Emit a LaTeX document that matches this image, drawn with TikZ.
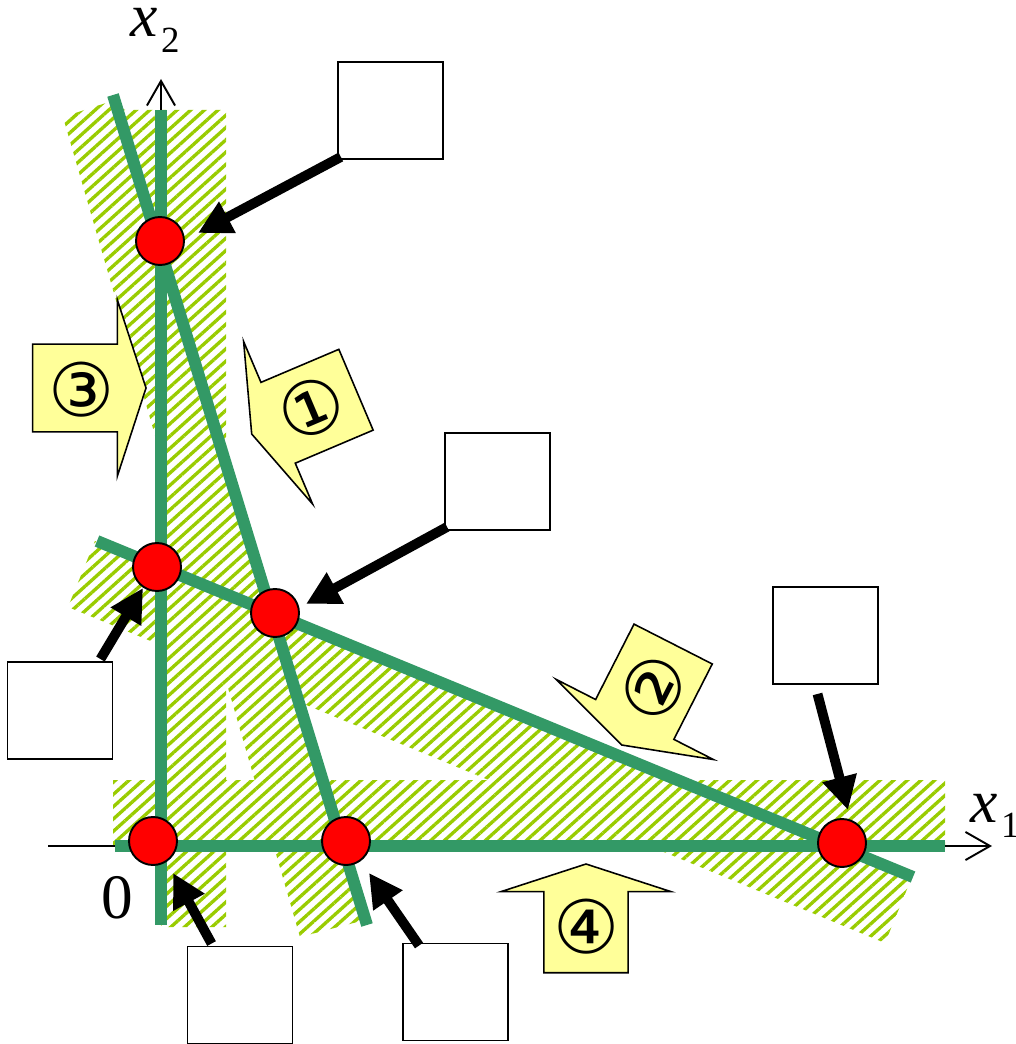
\documentclass[tikz,border=0pt]{standalone}
\usepackage{fontspec}
\usetikzlibrary{arrows.meta,patterns.meta,calc}
\newfontfamily\symfont{DejaVu Sans}
\newfontfamily\tmsfont{Liberation Serif}
\definecolor{linegreen}{RGB}{51,153,102}
\definecolor{hatchgreen}{RGB}{153,204,0}
\definecolor{blockyellow}{RGB}{255,255,153}
\tikzset{
  band/.style={pattern={Lines[angle=42,distance=5.2pt,line width=1.9pt]},pattern color=hatchgreen},
  constraint/.style={draw=linegreen,line width=6.8pt},
  axisline/.style={draw=black,line width=1.1pt,-{Straight Barb[length=14pt,width=16pt,line width=1.1pt]}},
  vertex/.style={circle,draw=black,fill=red,line width=1.1pt,minimum size=0.96cm,inner sep=0pt},
  callout/.style={draw=black,line width=5.6pt,-{Triangle[length=19pt,width=19pt]}},
  blankbox/.style={draw=black,fill=white,line width=1.1pt,minimum width=2.1cm,minimum height=1.94cm,inner sep=0pt},
  circnum/.style={inner sep=0pt,font=\fontsize{42pt}{42pt}\selectfont\symfont},
  axlabel/.style={inner sep=0pt,anchor=base west},
  blockarr/.pic={\draw[line width=0.9pt,fill=blockyellow,line join=miter]
      (0,0) -- (-28.7,-88.3) -- (-28.7,-43.9) -- (-113.3,-43.9) -- (-113.3,43.9)
      -- (-28.7,43.9) -- (-28.7,88.3) -- cycle;}
}
\begin{document}
\begin{tikzpicture}[x=0.02cm,y=-0.02cm]
\useasboundingbox (0,0) rectangle (1015,1044);
% hatched bands (one path, so overlaps are hatched once)
\fill[band]
  (161,110) -- (226,110) -- (226,927) -- (161,927) -- cycle
  (63,117) -- (112,101) -- (125,110) -- (161,110) -- (161,241) -- (365,920) -- (300,937) -- cycle
  (95,541) -- (912,877) -- (885,943) -- (68,607) -- cycle
  (113,780) -- (945,780) -- (945,846) -- (113,846) -- cycle;
% axes
\coordinate (x1from) at (48,846);
\coordinate (x1to) at (992,846);
\coordinate (x2from) at (161,925);
\coordinate (x2to) at (161,79);
\draw[axisline] (x1from) -- (x1to);
\draw[axisline] (x2from) -- (x2to);
% constraint lines
\draw[constraint] (113,95) -- (367,925);
\draw[constraint] (97,541) -- (913,877);
\draw[constraint] (161,110) -- (161,925);
\draw[constraint] (115,846) -- (945,846);
% block arrows
\pic[rotate=0] at (146,388) {blockarr};
\pic[rotate=203] at (251.7,434) {blockarr};
\pic[rotate=243] at (621.7,745) {blockarr};
\pic[rotate=90,scale=0.96] at (586,864) {blockarr};
\node[circnum] (n3) at (81.7,390) {③};
\node[circnum,rotate=23] (n1) at (311.7,408.3) {①};
\node[circnum,rotate=63] (n2) at (653.3,688.3) {②};
\node[circnum] (n4) at (586.7,926.7) {④};
% vertices
\node[vertex] (A) at (160,241) {};
\node[vertex] (B) at (157,567) {};
\node[vertex] (C) at (275,613) {};
\node[vertex] (D) at (153,841) {};
\node[vertex] (E) at (346,841) {};
\node[vertex] (F) at (842,843) {};
% blank boxes
\node[blankbox] (box1) at (390.3,110.5) {};
\node[blankbox] (box2) at (497.5,481.5) {};
\node[blankbox] (box3) at (60,710.5) {};
\node[blankbox] (box4) at (825.5,635.5) {};
\node[blankbox] (box5) at (240,995) {};
\node[blankbox] (box6) at (455.5,992) {};
% callout arrows
\coordinate (tA) at (198,233);
\coordinate (tC) at (306,604);
\coordinate (tB) at (143,588);
\coordinate (tF) at (848,810);
\coordinate (tD) at (173,873);
\coordinate (tE) at (369,873);
\draw[callout] ($(box1.south west)+(4,-3)$) -- (tA);
\draw[callout] ($(box2.south west)+(3,-4)$) -- (tC);
\draw[callout] ($(box3.north east)+(-13,-2)$) -- (tB);
\draw[callout] ($(box4.south)+(-8,9)$) -- (tF);
\draw[callout] ($(box5.north west)+(25,-2)$) -- (tD);
\draw[callout] ($(box6.north west)+(17,3)$) -- (tE);
% labels
\node[axlabel] (x2lab) at (130,37) {\fontsize{35pt}{35pt}\selectfont\tmsfont\itshape x\hspace{2pt}\raisebox{-9pt}{\fontsize{21pt}{21pt}\selectfont\upshape 2}};
\node[axlabel] (x1lab) at (970,822) {\fontsize{35pt}{35pt}\selectfont\tmsfont\itshape x\hspace{2pt}\raisebox{-9pt}{\fontsize{21pt}{21pt}\selectfont\upshape 1}};
\node[inner sep=0pt,anchor=base] (zero) at (117,918) {\fontsize{36pt}{36pt}\selectfont\tmsfont 0};
\end{tikzpicture}
\end{document}
